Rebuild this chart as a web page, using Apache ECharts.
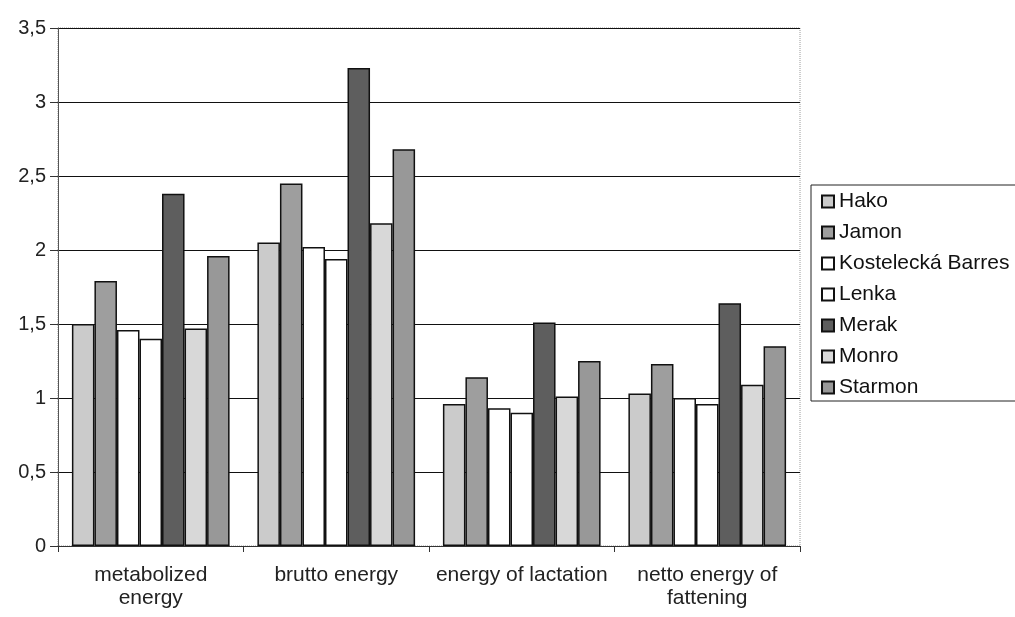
<!DOCTYPE html>
<html>
<head>
<meta charset="utf-8">
<script src="https://cdn.jsdelivr.net/npm/echarts@6/dist/echarts.min.js"></script>
<style>html,body{margin:0;padding:0;background:#fff}#c{width:1015px;height:617px}</style>
</head>
<body>
<div id="c"></div>
<script>
var categories = ['metabolized\nenergy', 'brutto energy', 'energy of lactation', 'netto energy of\nfattening'];
var seriesNames = ['Hako', 'Jamon', 'Kostelecká Barres', 'Lenka', 'Merak', 'Monro', 'Starmon'];
var hako    = [1.50, 2.05, 0.96, 1.03];
var jamon   = [1.79, 2.45, 1.14, 1.23];
var kost    = [1.46, 2.02, 0.93, 1.00];
var lenka   = [1.40, 1.94, 0.90, 0.96];
var merak   = [2.38, 3.23, 1.51, 1.64];
var monro   = [1.47, 2.18, 1.01, 1.09];
var starmon = [1.96, 2.68, 1.25, 1.35];
var yTicks = [0, 0.5, 1, 1.5, 2, 2.5, 3, 3.5];

var values = [hako, jamon, kost, lenka, merak, monro, starmon];
var colors = ['#cbcbcb', '#9e9e9e', '#ffffff', '#ffffff', '#5e5e5e', '#d8d8d8', '#989898'];
var font = 'Liberation Sans, Arial, sans-serif';

var chart = echarts.init(document.getElementById('c'), null, {renderer: 'canvas'});
chart.setOption({
  animation: false,
  backgroundColor: '#fff',
  textStyle: {fontFamily: font},
  grid: {left: 58, top: 28, width: 742, height: 518, show: true, borderColor: '#9a9a9a', borderWidth: 1, borderType: 'dotted', containLabel: false},
  legend: {
    orient: 'vertical', left: 811, top: 185,
    data: seriesNames,
    itemWidth: 12, itemHeight: 12, itemGap: 10,
    icon: 'rect',
    padding: [6, 20, 3, 10],
    borderColor: '#222', borderWidth: 1,
    textStyle: {fontFamily: font, fontSize: 21, color: '#111', lineHeight: 21}
  },
  xAxis: {
    type: 'category', data: categories,
    axisLine: {lineStyle: {color: '#333', width: 1}},
    axisTick: {show: true, length: 6, lineStyle: {color: '#333'}},
    axisLabel: {fontFamily: font, fontSize: 21, color: '#222', margin: 18, lineHeight: 23, interval: 0}
  },
  yAxis: {
    type: 'value', min: yTicks[0], max: yTicks[yTicks.length - 1], interval: 0.5,
    axisLine: {show: true, lineStyle: {color: '#555'}},
    axisTick: {show: true, length: 8, lineStyle: {color: '#333'}},
    splitLine: {lineStyle: {color: '#111', width: 1.2}},
    axisLabel: {fontFamily: font, fontSize: 20, color: '#222', margin: 12,
      formatter: function (v) { return String(v).replace('.', ','); }}
  },
  series: seriesNames.map(function (n, i) {
    return {
      name: n, type: 'bar', data: values[i],
      barGap: '0%', barCategoryGap: '15%',
      itemStyle: {color: colors[i], borderColor: '#111', borderWidth: 1.5}
    };
  })
});
</script>
</body>
</html>
